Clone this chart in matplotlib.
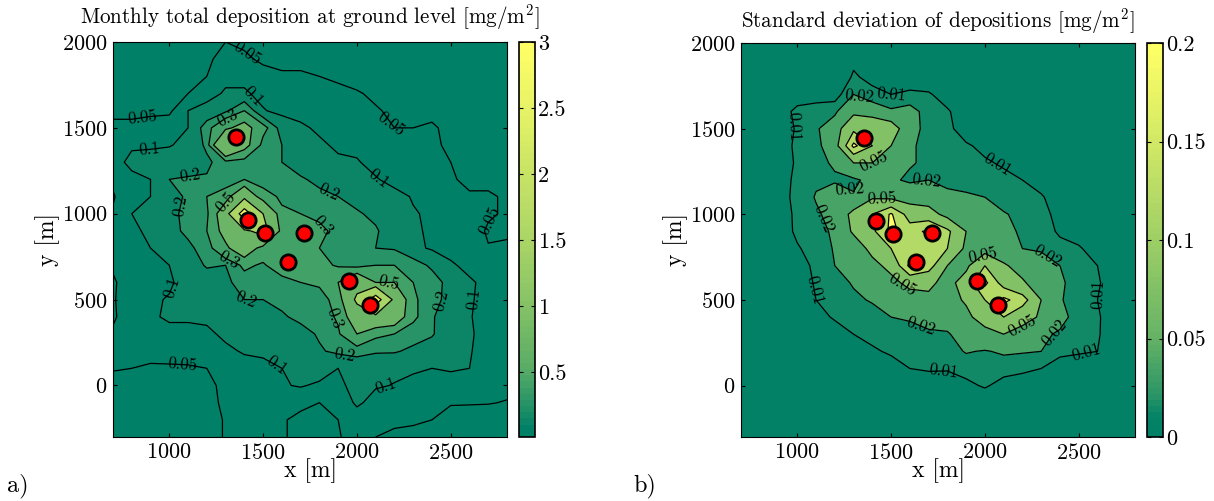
import numpy as np
import matplotlib

matplotlib.use("Agg")
import matplotlib.pyplot as plt
from matplotlib.cm import ScalarMappable
from matplotlib.colors import LinearSegmentedColormap, Normalize

plt.rcParams["font.family"] = ["cmr10", "DejaVu Serif"]
plt.rcParams["mathtext.fontset"] = "cm"
plt.rcParams["axes.formatter.use_mathtext"] = True

xs = [700 + 100 * i for i in range(22)]
ys = [2000 - 100 * i for i in range(24)]

# source positions
src_x = [1358, 1422, 1508, 1719, 1631, 1957, 2069]
src_y = [1446, 963, 885, 888, 720, 609, 469]

# monthly deposition, one row per y, one value per x
dep = [
    [.02, .02, .02, .02, .02, .03, .05, .04, .03, .02, .02, .02, .02, .02, .02, .02, .02, .02, .02, .02, .02, .02],
    [.02, .02, .02, .03, .03, .04, .07, .06, .04, .03, .03, .03, .02, .02, .02, .02, .02, .02, .02, .02, .02, .02],
    [.03, .03, .03, .03, .04, .05, .08, .08, .07, .06, .06, .05, .04, .03, .03, .02, .02, .02, .02, .02, .02, .02],
    [.04, .04, .04, .045, .05, .07, .11, .11, .08, .07, .07, .07, .065, .055, .04, .03, .03, .03, .02, .02, .02, .02],
    [.04, .04, .04, .04, .1, .13, .18, .3, .105, .08, .08, .07, .07, .065, .055, .04, .04, .04, .03, .03, .02, .02],
    [.06, .06, .07, .08, .1, .25, .45, .6, .35, .15, .11, .09, .08, .075, .065, .05, .05, .055, .04, .03, .03, .02],
    [.07, .09, .09, .095, .12, .22, 1., .6, .25, .2, .13, .11, .09, .085, .08, .07, .065, .06, .04, .03, .03, .03],
    [.07, .12, .13, .14, .15, .18, .25, .23, .22, .2, .16, .13, .11, .105, .08, .07, .065, .06, .05, .04, .03, .03],
    [.06, .08, .1, .2, .21, .21, .2, .3, .25, .21, .21, .18, .15, .13, .105, .08, .07, .065, .055, .04, .04, .04],
    [.045, .09, .1, .15, .22, .3, .4, .8, .35, .28, .24, .22, .2, .17, .14, .12, .095, .08, .07, .055, .055, .045],
    [.055, .1, .13, .18, .22, .27, .7, 2.5, 1., .32, .3, .25, .22, .21, .18, .14, .105, .09, .08, .07, .055, .045],
    [.055, .08, .12, .17, .22, .3, .6, .9, 1.2, .4, .45, .35, .24, .22, .21, .15, .11, .09, .08, .07, .045, .045],
    [.055, .06, .1, .13, .18, .24, .45, .7, .4, .35, .33, .3, .23, .22, .2, .19, .12, .09, .075, .06, .052, .055],
    [.055, .06, .07, .1, .15, .21, .2, .33, .28, .4, .32, .35, .28, .24, .3, .3, .25, .18, .11, .08, .06, .055],
    [.045, .07, .08, .09, .13, .15, .18, .24, .21, .24, .3, .32, .5, .8, .5, .5, .3, .25, .16, .11, .08, .055],
    [.045, .08, .09, .105, .12, .14, .17, .2, .2, .22, .22, .25, .35, 1.1, 2.5, .8, .32, .24, .16, .11, .07, .055],
    [.045, .07, .09, .11, .11, .11, .13, .15, .17, .19, .22, .23, .32, .7, .8, .7, .33, .21, .14, .105, .07, .055],
    [.055, .06, .07, .08, .08, .09, .11, .12, .13, .15, .17, .21, .28, .5, .33, .3, .24, .21, .13, .11, .07, .055],
    [.055, .055, .055, .065, .07, .07, .09, .105, .11, .11, .13, .19, .22, .22, .21, .21, .18, .15, .12, .105, .07, .055],
    [.052, .05, .048, .045, .045, .05, .07, .08, .085, .1, .11, .13, .1, .16, .13, .11, .105, .1, .105, .1, .07, .055],
    [.04, .04, .04, .04, .04, .045, .055, .065, .07, .095, .105, .09, .08, .13, .105, .098, .09, .085, .08, .075, .065, .06],
    [.03, .03, .03, .03, .03, .042, .055, .06, .06, .06, .055, .05, .06, .11, .08, .07, .065, .06, .052, .053, .052, .048],
    [.03, .03, .03, .03, .03, .04, .052, .052, .052, .052, .045, .045, .05, .07, .052, .055, .055, .05, .04, .03, .03, .03],
    [.03, .03, .03, .03, .03, .04, .052, .052, .052, .052, .045, .04, .048, .06, .05, .045, .04, .03, .03, .03, .03, .03],
]

# standard deviation
std = [
    [.003, .003, .003, .003, .003, .003, .003, .003, .003, .003, .003, .003, .003, .003, .003, .003, .003, .003, .003, .003, .003, .003],
    [.003, .003, .003, .003, .003, .003, .0085, .003, .003, .003, .003, .003, .003, .003, .003, .003, .003, .003, .003, .003, .003, .003],
    [.003, .003, .004, .004, .004, .004, .011, .008, .004, .004, .004, .004, .004, .004, .003, .003, .003, .003, .003, .003, .003, .003],
    [.003, .003, .004, .004, .004, .005, .02, .012, .01, .012, .011, .006, .004, .004, .004, .003, .003, .003, .003, .003, .003, .003],
    [.003, .003, .004, .013, .016, .017, .04, .03, .022, .025, .015, .011, .005, .004, .004, .003, .003, .003, .003, .003, .003, .003],
    [.003, .004, .005, .011, .018, .03, .09, .09, .07, .025, .016, .012, .006, .004, .004, .003, .003, .003, .003, .003, .003, .003],
    [.003, .004, .005, .012, .016, .03, .15, .1, .05, .022, .016, .013, .011, .008, .005, .004, .003, .003, .003, .003, .003, .003],
    [.003, .004, .006, .011, .016, .022, .05, .05, .03, .021, .018, .015, .013, .011, .009, .005, .004, .003, .003, .003, .003, .003],
    [.003, .004, .006, .012, .018, .018, .016, .027, .022, .018, .02, .018, .015, .014, .012, .01, .006, .004, .003, .003, .003, .003],
    [.003, .004, .007, .012, .021, .03, .022, .045, .04, .03, .027, .022, .022, .02, .015, .012, .011, .005, .004, .003, .003, .003],
    [.003, .004, .005, .012, .018, .025, .06, .1, .145, .08, .07, .035, .03, .025, .021, .017, .012, .008, .004, .003, .003, .003],
    [.003, .003, .004, .012, .016, .022, .055, .09, .15, .12, .15, .11, .05, .028, .024, .018, .013, .009, .006, .003, .003, .003],
    [.003, .003, .004, .009, .014, .021, .03, .06, .1, .12, .12, .1, .04, .03, .025, .02, .018, .012, .011, .006, .003, .003],
    [.003, .003, .004, .006, .012, .02, .025, .04, .06, .15, .12, .05, .04, .1, .055, .035, .028, .02, .014, .01, .005, .003],
    [.003, .003, .003, .005, .011, .016, .021, .03, .04, .06, .06, .035, .07, .15, .08, .055, .03, .022, .015, .011, .005, .003],
    [.003, .003, .003, .004, .01, .015, .018, .021, .028, .033, .04, .035, .055, .1, .15, .12, .05, .021, .015, .01, .005, .003],
    [.003, .003, .003, .003, .007, .011, .013, .016, .02, .021, .025, .025, .04, .07, .1, .065, .045, .025, .014, .011, .005, .003],
    [.003, .003, .003, .003, .004, .006, .01, .012, .015, .017, .018, .019, .025, .035, .05, .035, .023, .018, .013, .011, .004, .003],
    [.003, .003, .003, .003, .003, .004, .006, .009, .011, .012, .014, .015, .021, .019, .022, .021, .02, .012, .011, .01, .003, .003],
    [.003, .003, .003, .003, .003, .003, .004, .005, .007, .01, .011, .011, .013, .015, .013, .012, .01, .006, .005, .004, .003, .003],
    [.003, .003, .003, .003, .003, .003, .003, .003, .004, .005, .005, .004, .008, .011, .007, .005, .004, .003, .003, .003, .003, .003],
    [.002, .002, .002, .002, .002, .002, .002, .002, .002, .002, .002, .002, .003, .004, .003, .002, .002, .002, .002, .002, .002, .002],
    [.002, .002, .002, .002, .002, .002, .002, .002, .002, .002, .002, .002, .002, .002, .002, .002, .002, .002, .002, .002, .002, .002],
    [.002, .002, .002, .002, .002, .002, .002, .002, .002, .002, .002, .002, .002, .002, .002, .002, .002, .002, .002, .002, .002, .002],
]

dep_fill = [0, .05, .1, .2, .3, .5, 1, 2, 3.5]
dep_lines = [.05, .1, .2, .3, .5, 1, 2]
dep_ticks = [.5, 1, 1.5, 2, 2.5, 3]
std_fill = [0, .01, .02, .05, .1, .14, .3]
std_lines = [.01, .02, .05, .1, .14]
std_ticks = [0, .05, .1, .15, .2]

dep_labels = {
    .05: [(860, 1552), (1409, 1922), (2172, 1514), (2730, 930), (1072, 162)],
    .1: [(895, 1368), (1427, 1660), (2110, 1202), (975, 590), (1604, 181), (2154, 5), (2633, 502)],
    .2: [(1108, 1232), (1090, 1037), (1852, 1134), (1409, 502), (2429, 502), (1941, 220)],
    .3: [(1338, 774), (1312, 1553), (1888, 395), (1780, 890)],
    .5: [(1294, 1076), (2172, 590)],
}
std_labels = {
    .01: [(1503, 1698), (2063, 1278), (1068, 556), (1778, 88), (2533, 244), (2587, 537), (1041, 1522)],
    .02: [(1681, 1259), (1272, 1122), (1148, 976), (2320, 732), (1672, 381), (2365, 312), (1325, 1668)],
    .05: [(1396, 1327), (1450, 1112), (1956, 810), (1565, 595), (2187, 371)],
}


def make_cmap(vmax, stops):
    """Summer colormap bent so the low values take up more of the range."""
    return LinearSegmentedColormap.from_list(
        "bent", [(v / vmax, plt.cm.summer(float(t))) for v, t in stops], N=64
    )


def panel(fig, box, cbox, z, fill, lines, labels, ticks, vmin, vmax, cmap, title, title_pad):
    ax = fig.add_axes(box)
    norm = Normalize(vmin, vmax)
    ax.contourf(xs, ys, z, levels=fill, cmap=cmap, norm=norm)
    # one contour set per level, so the hand placed labels stay on their own level
    for level in lines:
        cs = ax.contour(xs, ys, z, levels=[level], colors="k", linewidths=0.9)
        if level in labels:
            ax.clabel(cs, fmt="%g", inline=False, fontsize=12, colors="k",
                      manual=labels[level])
    ax.plot(src_x, src_y, "o", mfc="red", mec="k", ms=11, mew=2, ls="none")
    ax.set_xlim(700, 2800)
    ax.set_ylim(-300, 2000)
    ax.set_xticks([1000, 1500, 2000, 2500])
    ax.set_yticks([0, 500, 1000, 1500, 2000])
    ax.tick_params(direction="in", top=True, right=True, length=3, labelsize=16, pad=4)
    ax.set_xlabel("x [m]", fontsize=17, va="baseline")
    ax.xaxis.set_label_coords(0.5, -40 / 395)
    ax.set_ylabel("y [m]", fontsize=17)
    ax.yaxis.set_label_coords(-0.135, 0.5)
    ax.set_title(title, fontsize=15.2, pad=title_pad)

    cax = fig.add_axes(cbox)
    cb = fig.colorbar(ScalarMappable(norm, cmap), cax=cax, ticks=ticks)
    cb.ax.set_yticklabels(["%g" % t for t in ticks])
    cb.ax.tick_params(direction="in", left=True, right=True, length=3, labelsize=16, pad=2)
    cb.outline.set_linewidth(1.2)
    return ax


W, H = 1214.0, 501.0


def box(left, top, right, bottom):
    return [left / W, 1 - bottom / H, (right - left) / W, (bottom - top) / H]


fig = plt.figure(figsize=(12.14, 5.01), dpi=100)

dep_cmap = make_cmap(3, [(0, 0), (.05, 0), (.1, .05), (.2, .13), (.3, .2), (.5, .35),
                         (1, .52), (1.5, .67), (2, .78), (2.5, .9), (3, 1)])
std_cmap = make_cmap(.2, [(0, 0), (.01, .03), (.02, .17), (.05, .4), (.1, .62), (.15, .82), (.2, 1)])

panel(fig, box(113, 42, 507, 437), box(519, 42, 535, 437), dep, dep_fill, dep_lines,
      dep_labels, dep_ticks, .01, 3, dep_cmap,
      "Monthly total deposition at ground level [mg/m$^2$]", 13.5)
panel(fig, box(741, 43, 1135, 437), box(1147, 43, 1163, 437), std, std_fill, std_lines,
      std_labels, std_ticks, 0, .2, std_cmap,
      "Standard deviation of depositions [mg/m$^2$]", 11.5)

fig.text(7 / W, 1 - 491 / H, "a)", fontsize=17.5)
fig.text(633 / W, 1 - 491 / H, "b)", fontsize=17.5)

fig.savefig("out.png", dpi=100)
